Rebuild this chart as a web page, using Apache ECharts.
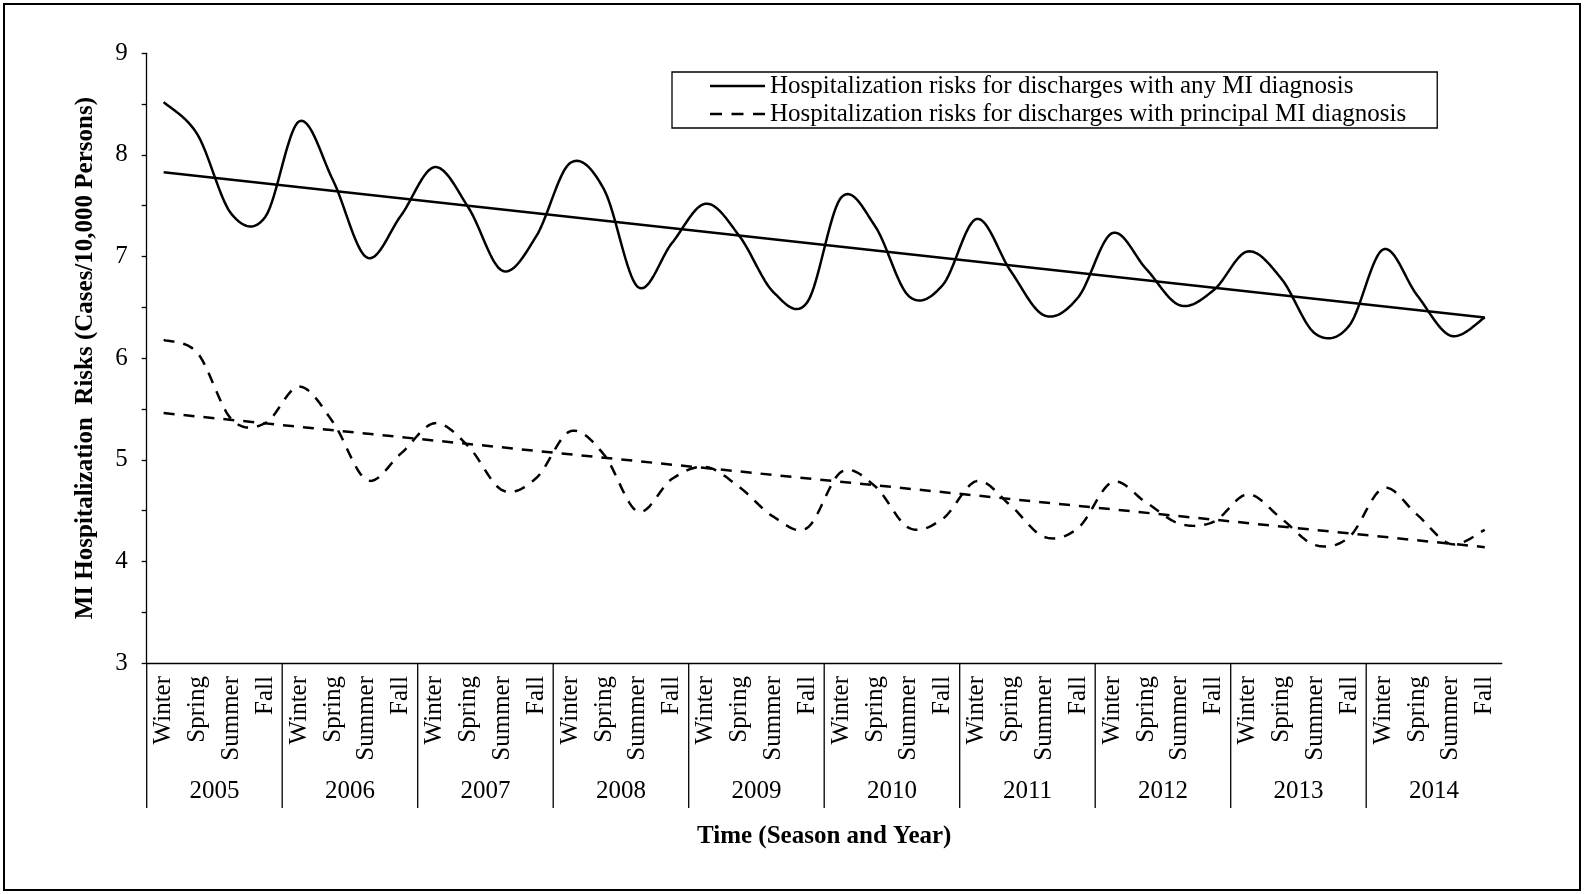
<!DOCTYPE html>
<html>
<head>
<meta charset="utf-8">
<script src="https://cdn.jsdelivr.net/npm/echarts@6/dist/echarts.min.js"></script>
<style>
  html, body { margin: 0; padding: 0; background: #fff; }
  #chart { width: 1585px; height: 894px; }
</style>
</head>
<body>
<div id="chart"></div>
<script>
// Seasonal MI hospitalization risks, 2005-2014 (cases per 10,000 persons)
const seasons = ['Winter', 'Spring', 'Summer', 'Fall'];
const years = ['2005', '2006', '2007', '2008', '2009', '2010', '2011', '2012', '2013', '2014'];

const anyMI = [
  8.52, 8.20, 7.42, 7.39,
  8.33, 7.75, 6.99, 7.40,
  7.88, 7.48, 6.86, 7.20,
  7.92, 7.66, 6.70, 7.13,
  7.52, 7.20, 6.65, 6.55,
  7.58, 7.30, 6.61, 6.72,
  7.37, 6.86, 6.42, 6.60,
  7.23, 6.88, 6.52, 6.67,
  7.05, 6.78, 6.24, 6.32,
  7.07, 6.62, 6.22, 6.40
];
const principalMI = [
  6.18, 6.05, 5.40, 5.36,
  5.72, 5.37, 4.80, 5.06,
  5.36, 5.13, 4.70, 4.82,
  5.28, 5.05, 4.49, 4.81,
  4.93, 4.73, 4.44, 4.33,
  4.88, 4.74, 4.33, 4.42,
  4.79, 4.55, 4.24, 4.33,
  4.78, 4.58, 4.37, 4.39,
  4.66, 4.42, 4.16, 4.24,
  4.72, 4.46, 4.17, 4.31
];
// Linear trend lines: value at the first and at the last quarter
const anyMITrend = [7.83, 6.40];
const principalMITrend = [5.46, 4.14];

const yMin = 3, yMax = 9, yStep = 1;

const nameAny = 'Hospitalization risks for discharges with any MI diagnosis';
const namePrincipal = 'Hospitalization risks for discharges with principal MI diagnosis';

const FONT = 'Liberation Serif';
const FS = 25;
const INK = '#000';
const LW = 2.5;
const DASH = [11, 9];

// one category per season, repeated for each year
const categories = [];
years.forEach(function () { seasons.forEach(function (s) { categories.push(s); }); });
const lastIdx = categories.length - 1;
// first quarter of each year, used for the year separators under the axis
const yearStarts = years.map(function (y, k) { return [k * seasons.length, yMin]; });

// Smoothed seasonal curve: Catmull-Rom spline through the points,
// placed with the chart's own coordinate system.
function smoothCurveSeries(name, values, dash) {
  return {
    name: name,
    type: 'custom',
    data: values.map(function (v, i) { return [i, v]; }),
    clip: false,
    silent: true,
    itemStyle: { color: INK },
    z: 3,
    renderItem: function (params, api) {
      if (params.dataIndex !== 0) return null;
      const pts = values.map(function (v, i) { return api.coord([i, v]); });
      const n = pts.length;
      const out = [pts[0].slice()];
      const steps = 20;
      for (let i = 0; i < n - 1; i++) {
        const p0 = pts[Math.max(i - 1, 0)], p1 = pts[i], p2 = pts[i + 1], p3 = pts[Math.min(i + 2, n - 1)];
        const c1 = [p1[0] + (p2[0] - p0[0]) / 6, p1[1] + (p2[1] - p0[1]) / 6];
        const c2 = [p2[0] - (p3[0] - p1[0]) / 6, p2[1] - (p3[1] - p1[1]) / 6];
        for (let k = 1; k <= steps; k++) {
          const t = k / steps, u = 1 - t;
          const a = u * u * u, b = 3 * u * u * t, c = 3 * u * t * t, d = t * t * t;
          out.push([
            a * p1[0] + b * c1[0] + c * c2[0] + d * p2[0],
            a * p1[1] + b * c1[1] + c * c2[1] + d * p2[1]
          ]);
        }
      }
      return {
        type: 'polyline',
        shape: { points: out },
        style: { stroke: INK, lineWidth: LW, fill: null, lineDash: dash || null, lineJoin: 'round' }
      };
    }
  };
}

const chart = echarts.init(document.getElementById('chart'), null, { renderer: 'canvas' });

chart.setOption({
  animation: false,
  backgroundColor: '#fff',
  textStyle: { fontFamily: FONT, color: INK },
  graphic: [{
    type: 'rect',
    shape: { x: 4, y: 4, width: 1576, height: 886 },
    style: { fill: 'none', stroke: INK, lineWidth: 2 },
    silent: true,
    z: 100
  }],
  grid: {
    left: 146.7, right: 83.3, top: 53.3, bottom: 231,
    containLabel: false,
    outerBoundsMode: 'none'
  },
  legend: {
    orient: 'vertical',
    left: 672, top: 72,
    data: [
      { name: nameAny, icon: 'path://M0 0H55V2.5H0Z' },
      { name: namePrincipal, icon: 'path://M0 0H12V2.5H0Z M21.5 0H33.5V2.5H21.5Z M43 0H55V2.5H43Z' }
    ],
    itemWidth: 55, itemHeight: 28, itemGap: 0,
    padding: [0, 31, 0, 38],
    borderColor: INK, borderWidth: 1.3,
    backgroundColor: '#fff',
    selectedMode: false,
    itemStyle: { color: INK, borderWidth: 0 },
    textStyle: { fontFamily: FONT, fontSize: FS, lineHeight: 28, color: INK }
  },
  xAxis: [{
    type: 'category',
    data: categories,
    boundaryGap: true,
    position: 'bottom',
    axisLine: { show: true, lineStyle: { color: INK, width: 1.3 } },
    axisTick: { show: false },
    splitLine: { show: false },
    axisLabel: {
      interval: 0, rotate: 90, margin: 13,
      fontFamily: FONT, fontSize: FS, color: INK
    }
  }, {
    type: 'category',
    data: years,
    boundaryGap: true,
    position: 'bottom',
    axisLine: { show: false },
    axisTick: { show: false },
    splitLine: { show: false },
    axisLabel: { interval: 0, margin: 116, fontFamily: FONT, fontSize: FS, color: INK },
    name: 'Time (Season and Year)',
    nameLocation: 'middle',
    nameGap: 161,
    nameTextStyle: { fontFamily: FONT, fontSize: FS, fontWeight: 'bold', color: INK }
  }],
  yAxis: {
    type: 'value',
    min: yMin, max: yMax, interval: yStep,
    axisLine: { show: true, lineStyle: { color: INK, width: 1.3 } },
    axisTick: { show: true, length: 5, lineStyle: { color: INK, width: 1.3 } },
    minorTick: { show: true, splitNumber: 2, length: 5, lineStyle: { color: INK, width: 1.3 } },
    splitLine: { show: false },
    axisLabel: { margin: 19, fontFamily: FONT, fontSize: FS, color: INK },
    name: 'MI Hospitalization  Risks (Cases/10,000 Persons)',
    nameLocation: 'middle',
    nameGap: 49,
    nameTextStyle: { fontFamily: FONT, fontSize: FS, fontWeight: 'bold', color: INK }
  },
  series: [
    smoothCurveSeries(nameAny, anyMI, null),
    smoothCurveSeries(namePrincipal, principalMI, DASH),
    {
      name: 'Trend (any MI)',
      type: 'line',
      data: [[0, anyMITrend[0]], [lastIdx, anyMITrend[1]]],
      symbol: 'none',
      silent: true,
      lineStyle: { color: INK, width: LW, type: 'solid' },
      z: 2
    }, {
      name: 'Trend (principal MI)',
      type: 'line',
      data: [[0, principalMITrend[0]], [lastIdx, principalMITrend[1]]],
      symbol: 'none',
      silent: true,
      lineStyle: { color: INK, width: LW, type: DASH },
      z: 2
    }, {
      name: 'Year separators',
      type: 'custom',
      data: yearStarts,
      clip: false,
      silent: true,
      renderItem: function (params, api) {
        const base = api.coord([api.value(0), api.value(1)]);
        const band = api.size([1, 0])[0];
        const x = base[0] - band / 2;
        return {
          type: 'line',
          shape: { x1: x, y1: base[1], x2: x, y2: base[1] + 145 },
          style: { stroke: INK, lineWidth: 1.3 }
        };
      }
    }
  ]
});
</script>
</body>
</html>
